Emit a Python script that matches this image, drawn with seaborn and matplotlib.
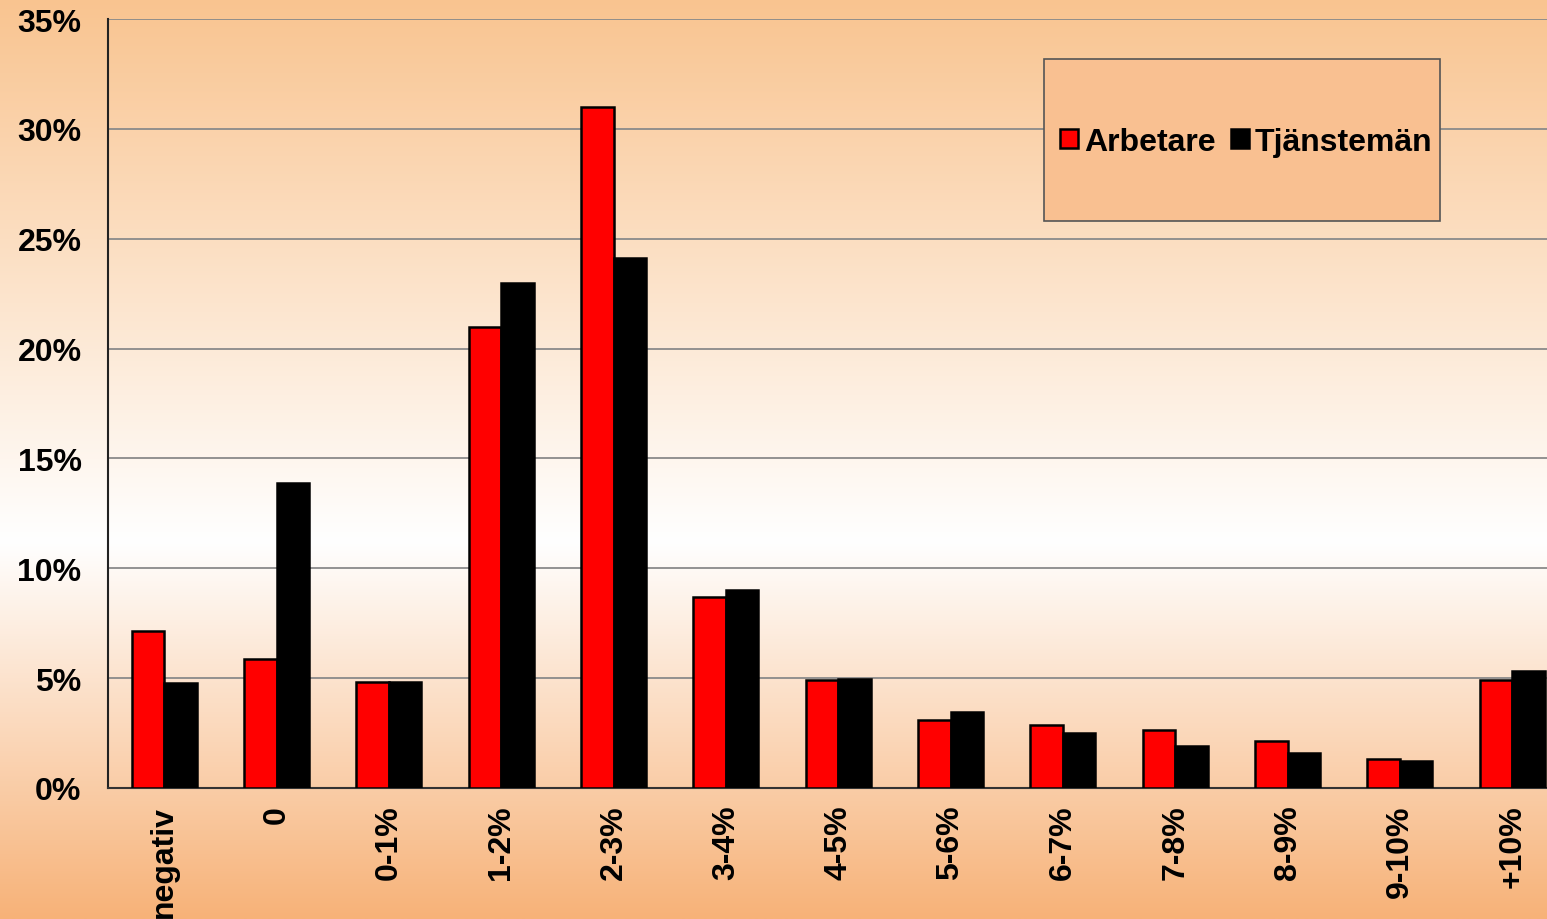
import numpy as np
import pandas as pd
import matplotlib
matplotlib.use("Agg")
import matplotlib.pyplot as plt
from matplotlib.patches import Rectangle, Patch
from matplotlib.ticker import FixedLocator
import seaborn as sns

categories = ["negativ", "0", "0-1%", "1-2%", "2-3%", "3-4%", "4-5%",
              "5-6%", "6-7%", "7-8%", "8-9%", "9-10%", "+10%"]
arbetare = [7.15, 5.87, 4.82, 20.98, 31.0, 8.69, 4.92, 3.11, 2.85, 2.65, 2.14, 1.32, 4.9]
tjanstemen = [4.78, 13.88, 4.82, 22.99, 24.12, 9.01, 4.96, 3.44, 2.49, 1.91, 1.61, 1.24, 5.32]
series_names = ["Arbetare", "Tjänstemän"]
series_colors = ["#FF0000", "#000000"]
y_ticks = [0, 5, 10, 15, 20, 25, 30, 35]

df = pd.DataFrame({
    "kategori": categories * 2,
    "andel": arbetare + tjanstemen,
    "grupp": [series_names[0]] * len(categories) + [series_names[1]] * len(categories),
})

sns.set_theme(style="white")
plt.rcParams["font.family"] = ["Liberation Sans", "DejaVu Sans"]
plt.rcParams["font.weight"] = "bold"
plt.rcParams["text.color"] = "black"
plt.rcParams["xtick.color"] = "black"
plt.rcParams["ytick.color"] = "black"

W, H = 1547, 920
FS = 23
fig = plt.figure(figsize=(W / 100, H / 100), dpi=100)

# background gradient
bg = fig.add_axes([0, 0, 1, 1], zorder=-10)
top = np.array([249, 196, 144]) / 255
white = np.array([255, 255, 255]) / 255
bottom = np.array([247, 178, 120]) / 255
n = 400
t = np.linspace(0, 1, n)
mid = 0.59
cols = np.zeros((n, 3))
for i, v in enumerate(t):
    if v < mid:
        f = v / mid
        cols[i] = top * (1 - f) + white * f
    else:
        f = (v - mid) / (1 - mid)
        cols[i] = white * (1 - f) + bottom * f
img = np.repeat(cols[:, None, :], 2, axis=1)
bg.imshow(img, aspect="auto", extent=[0, 1, 0, 1], origin="upper")
bg.set_axis_off()

ax = fig.add_axes([108 / W, 1 - 789 / H, 1 - 108 / W, (789 - 20) / H])
ax.set_facecolor("none")

sns.barplot(data=df, x="kategori", y="andel", hue="grupp", order=categories,
            hue_order=series_names, palette=series_colors, width=0.58, gap=0,
            edgecolor="black", linewidth=1.8, saturation=1, legend=False, ax=ax,
            zorder=3)

ax.set_ylim(0, 35)
ax.set_xlim(-0.5, 12.31)
ax.set_yticks(y_ticks)
ax.set_yticklabels([f"{v}%" for v in y_ticks], fontsize=FS, fontweight="bold", color="black")
ax.yaxis.grid(True, color="#8a8a8a", linewidth=1.3, zorder=0)
ax.set_axisbelow(True)
ax.tick_params(axis="y", direction="inout", length=12, width=1.2, color="black", pad=13)

ax.set_xticks(range(len(categories)))
ax.set_xticklabels(categories, rotation=90, fontsize=FS, fontweight="bold", va="top", color="black")
ax.tick_params(axis="x", which="major", length=0, pad=12)
ax.xaxis.set_minor_locator(FixedLocator([i + 0.5 for i in range(-1, len(categories))]))
ax.tick_params(axis="x", which="minor", direction="inout", length=14, width=1.2, color="#333333")

ax.set_xlabel("")
ax.set_ylabel("")
for s in ["top", "right"]:
    ax.spines[s].set_visible(False)
ax.spines["left"].set_color("#222222")
ax.spines["left"].set_linewidth(1.5)
ax.spines["bottom"].set_color("#333333")
ax.spines["bottom"].set_linewidth(1.5)

# legend box
lx0 = (1044 - 108) / (W - 108)
lx1 = (1440 - 108) / (W - 108)
ly1 = (789 - 60) / 769
ly0 = (789 - 222) / 769
box = Rectangle((lx0, ly0), lx1 - lx0, ly1 - ly0, transform=ax.transAxes,
                facecolor="#F9C091", edgecolor="#555555", linewidth=1.2, zorder=5)
ax.add_patch(box)
handles = [Patch(facecolor=c, edgecolor="black", linewidth=1.8) for c in series_colors]
leg_cx = ((1060 + 1433) / 2 - 108) / (W - 108)
leg_cy = (789 - 143) / 769
leg = ax.legend(handles, series_names, loc="center",
                bbox_to_anchor=(leg_cx, leg_cy),
                ncol=2, frameon=False, handlelength=0.56,
                handleheight=0.56, handletextpad=0.2, columnspacing=0.45,
                borderaxespad=0, borderpad=0,
                prop={"weight": "bold", "size": FS})
for txt in leg.get_texts():
    txt.set_color("black")
leg.set_zorder(6)

fig.savefig("out.png", dpi=100)
